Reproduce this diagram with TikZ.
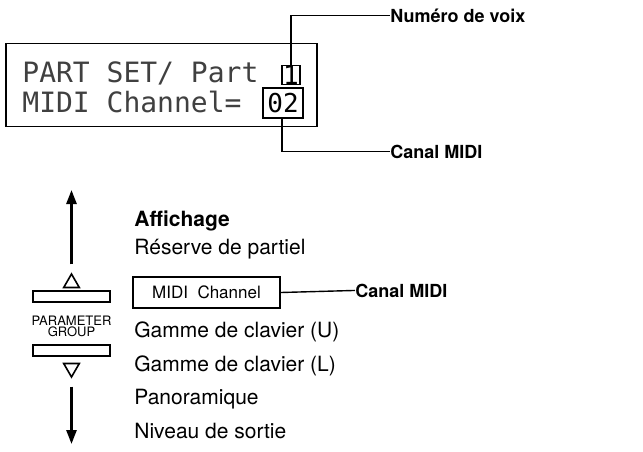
\documentclass[tikz,border=0pt]{standalone}
\usepackage{fontspec}
\setmainfont{TeX Gyre Heros}
\newfontfamily\lcdfont{DejaVu Sans Mono}
\usetikzlibrary{positioning,arrows.meta,shapes.geometric}
\tikzset{
  lcd/.style={font=\lcdfont\fontsize{14}{14}\selectfont,inner sep=0pt,anchor=base west,text=black!75},
  lbl/.style={font=\fontsize{10.5}{12}\selectfont,inner sep=0pt,anchor=base west},
  blbl/.style={lbl,font=\bfseries\fontsize{9}{11}\selectfont},
  leader/.style={line width=0.7pt},
  key/.style={draw,line width=0.8pt,minimum width=38.5pt,minimum height=5.5pt,inner sep=0pt},
  tri/.style={draw,line width=0.8pt,regular polygon,regular polygon sides=3,minimum size=9pt,inner sep=0pt},
}
\begin{document}
\begin{tikzpicture}[x=0.5pt,y=-0.5pt]
  \useasboundingbox (0,0) rectangle (643,451);
  % display
  \node[draw,line width=0.8pt,minimum width=155.5pt,minimum height=41.5pt,inner sep=0pt] (lcd) at (161.5,85) {};
  \node[lcd] (l1) at (22,82) {PART SET/ Part};
  \node[lcd] (l2) at (22,112) {MIDI Channel=};
  \node[draw,line width=0.7pt,minimum width=9pt,minimum height=9pt,inner sep=0pt,font=\lcdfont\fontsize{13}{13}\selectfont] (part) at (291,75) {1};
  \node[draw,line width=0.7pt,minimum width=20pt,minimum height=15pt,inner sep=0pt,font=\lcdfont\fontsize{13}{13}\selectfont] (chan) at (283,103) {02};
  \node[blbl] (voix) at (390,22) {Numéro de voix};
  \node[blbl] (canal) at (390,158) {Canal MIDI};
  \draw[leader] (part.north) |- (voix.west);
  \draw[leader] (chan.south -| 282,0) |- (canal.west);
  % parameter group
  \node[lbl] (aff) at (134,226) {\bfseries Affichage};
  \node[lbl] (res) at (134,254) {Réserve de partiel};
  \node[draw,line width=0.8pt,minimum width=73.5pt,minimum height=15.5pt,inner sep=0pt,font=\fontsize{8.5}{10}\selectfont] (midi) at (206.5,292.5) {MIDI\ \ Channel};
  \node[blbl] (canal2) at (355,297) {Canal MIDI};
  \draw[leader] (midi.east) -- (canal2.west);
  \node[lbl] (gu) at (134,337) {Gamme de clavier (U)};
  \node[lbl] (gl) at (134,371) {Gamme de clavier (L)};
  \node[lbl] (pan) at (134,404) {Panoramique};
  \node[lbl] (niv) at (134,438) {Niveau de sortie};
  \node[key] (up) at (71.5,296.5) {};
  \node[key] (down) at (71.5,350.5) {};
  \node[font=\fontsize{6.5}{7}\selectfont,align=center,inner sep=0pt] (pg) at (71.5,326) {PARAMETER\\[-1.5pt]GROUP};
  \node[tri] (tu) at (71.5,283) {};
  \node[tri,shape border rotate=180] (td) at (71.5,368) {};
  \coordinate (top) at (71.5,190);
  \coordinate (bot) at (71.5,444);
  \draw[line width=1.3pt,-{Triangle[length=7pt,width=5pt]}] (tu.north) ++(0,-8) -- (top);
  \draw[line width=1.3pt,-{Triangle[length=7pt,width=5pt]}] (td.south) ++(0,8) -- (bot);
\end{tikzpicture}
\end{document}
